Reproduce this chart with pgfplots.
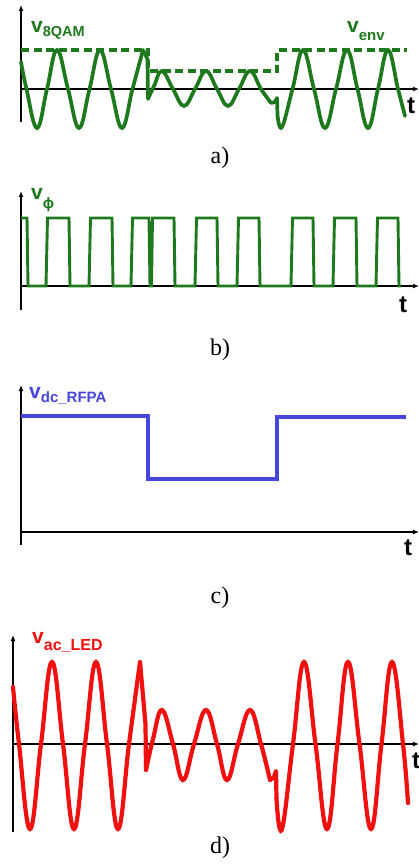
\documentclass[border=0pt]{standalone}
\usepackage{pgfplots}
\pgfplotsset{compat=1.18}
\usetikzlibrary{arrows.meta}
\usepackage{fontspec}
\setmainfont{Liberation Serif}
\setsansfont{Liberation Sans}

\definecolor{wgreen}{RGB}{30,120,30}
\definecolor{wblue}{RGB}{70,70,220}
\definecolor{wred}{RGB}{240,16,16}

\newcommand\fs[1]{\fontsize{#1}{#1}\selectfont}
\newcommand\capt[1]{{\fs{24}#1}}

\pgfplotsset{
  wave/.style={
    x=1pt, y=1pt, anchor=origin,
    axis lines=middle, enlargelimits=false, clip=false,
    xtick=\empty, ytick=\empty,
    axis line style={line width=1.8pt, -{Latex[length=6pt,width=5pt]}},
  },
}
\tikzset{lbl/.style={anchor=base west, inner sep=0pt, font=\sffamily\bfseries}}

\begin{document}
\begin{tikzpicture}
\useasboundingbox (0,0) rectangle (419pt,-865pt);

% ---- a) 8QAM signal and envelope
\begin{axis}[wave, at={(21pt,-89pt)}, xmin=0, xmax=398, ymin=-33, ymax=84]
\addplot[wgreen, line width=3.2pt, dash pattern=on 8pt off 4.5pt, sharp plot]
coordinates {(0,39)(127,39)(127,18)(256,18)(256,39)(386,39)};
\addplot[wgreen, line width=3.7pt, smooth, tension=0.7, line cap=round]
coordinates {(0,27)(5.5,0)(16,-39)(26,0)(36,39)(47,0)(58,-39)(68.5,0)(79,39)(90,0)(101,-39)(111.5,0)(122,39)};
\addplot[wgreen, line width=3.7pt, sharp plot, line join=round]
coordinates {(122,39)(126.5,30)(127,-10)};
\addplot[wgreen, line width=3.7pt, smooth, tension=0.7, line cap=round]
coordinates {(127,-10)(133,3)(141,18)(152,0)(163,-17)(174,0)(185,18)(196,0)(207,-17)(218,0)(229,18)(240,0)(250,-14)};
\addplot[wgreen, line width=3.7pt, sharp plot, line join=round]
coordinates {(250,-14)(254,-13)(256,-9)(256.5,-26)};
\addplot[wgreen, line width=3.7pt, smooth, tension=0.7, line cap=round]
coordinates {(256.5,-26)(261,-38)(271.5,0)(282,39)(293,0)(304,-39)(315,0)(326,39)(336.5,0)(347,-39)(357,0)(367,39)(377,0)(384,-27)};
\node[lbl, wgreen] at (axis cs:10,56) {\fs{21}v\raisebox{-4pt}{\fs{14.5}8QAM}};
\node[lbl, wgreen] at (axis cs:326,56) {\fs{21}v\raisebox{-8pt}{\fs{15}env}};
\node[lbl] at (axis cs:386,-24) {\fs{24}t};
\end{axis}
\node[anchor=base] at (220pt,-163pt) {\capt{a)}};

% ---- b) phase signal
\begin{axis}[wave, at={(21pt,-286pt)}, xmin=0, xmax=398, ymin=-24, ymax=95]
\addplot[wgreen, line width=2.9pt, sharp plot]
coordinates {(0,68)(6,68)(7,0)(25,0)(26.5,68)(48,68)(49,0)(68,0)(69.5,68)(91,68)(92,0)
(110,0)(111.5,68)(128,68)(129,0)(130.5,0)(131.5,68)(153,68)(154,0)(174,0)(175.5,68)
(196,68)(197,0)(216,0)(217.5,68)(238,68)(239,0)(270,0)(271.5,68)(292,68)(293,0)
(312,0)(313.5,68)(335,68)(336,0)(355,0)(356.5,68)(377,68)(378,0)(380,0)};
\node[lbl, wgreen] at (axis cs:10,86) {\fs{21}v\raisebox{-9pt}{\fs{15}ϕ}};
\node[lbl] at (axis cs:378,-26) {\fs{24}t};
\end{axis}
\node[anchor=base] at (220pt,-355pt) {\capt{b)}};

% ---- c) RFPA supply
\begin{axis}[wave, at={(21pt,-532pt)}, xmin=0, xmax=398, ymin=-13, ymax=147]
\addplot[wblue, line width=3.4pt, sharp plot]
coordinates {(0,116)(127,116)(127,53)(256,53)(256,115)(385,115)};
\node[lbl, wblue] at (axis cs:8,134) {\fs{21}v\raisebox{-4pt}{\fs{15}dc\_RFPA}};
\node[lbl] at (axis cs:383,-23) {\fs{24}t};
\end{axis}
\node[anchor=base] at (220pt,-603pt) {\capt{c)}};

% ---- d) LED ac voltage
\begin{axis}[wave, at={(13pt,-744pt)}, xmin=0, xmax=406, ymin=-88, ymax=109]
\addplot[wred, line width=4.2pt, smooth, tension=0.7, line cap=round]
coordinates {(0,57)(6,0)(17,-85)(28,0)(39,82)(50,0)(61,-85)(72,0)(83,82)(94,0)(105,-85)(116,0)(127,82)};
\addplot[wred, line width=4.2pt, sharp plot, line join=round]
coordinates {(127,82)(132.5,20)(133,-26)};
\addplot[wred, line width=4.2pt, smooth, tension=0.7, line cap=round]
coordinates {(133,-26)(140,5)(149,34)(160,0)(170,-36)(181,0)(193,34)(204,0)(214,-36)(225,0)(237,34)(248,0)(257,-36)};
\addplot[wred, line width=4.2pt, sharp plot, line join=round]
coordinates {(257,-36)(261,-33)(263,-27)(263.5,-55)};
\addplot[wred, line width=4.2pt, smooth, tension=0.7, line cap=round]
coordinates {(263.5,-55)(269,-85)(280,0)(291,82)(302.5,0)(314,-85)(324.5,0)(335,82)(346.5,0)(358,-85)(368.5,0)(379,82)(390,0)(395,-59)};
\node[lbl, wred] at (axis cs:19,101) {\fs{21}v\raisebox{-7pt}{\fs{16}ac\_LED}};
\node[lbl] at (axis cs:399,-24) {\fs{24}t};
\end{axis}
\node[anchor=base] at (220pt,-853pt) {\capt{d)}};
\end{tikzpicture}
\end{document}
